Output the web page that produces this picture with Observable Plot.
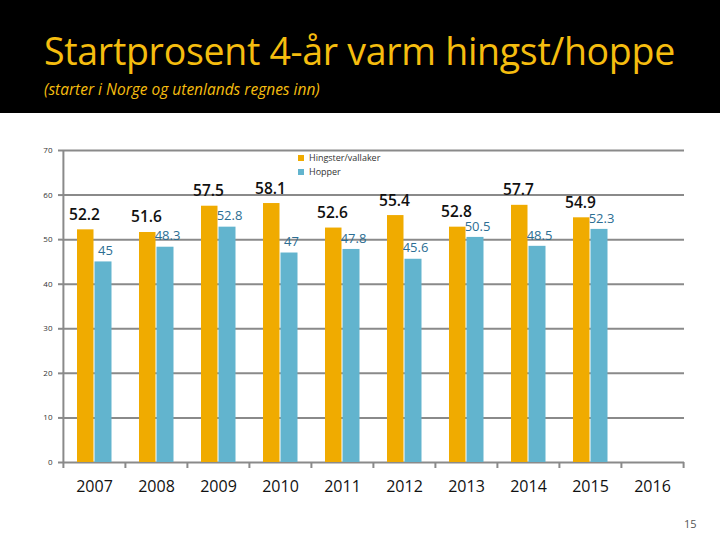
<!DOCTYPE html>
<html>
<head>
<meta charset="utf-8">
<script src="https://cdn.jsdelivr.net/npm/d3@7"></script>
<script src="https://cdn.jsdelivr.net/npm/@observablehq/plot@0.6"></script>
<style>
  html, body { margin: 0; padding: 0; background: #fff; }
  body { width: 720px; height: 540px; position: relative; overflow: hidden; font-family: "Open Sans", sans-serif; }
  #header { background: #000; height: 113px; position: relative; }
  #title { position: absolute; left: 44px; top: 28px; color: #F5BD0F; font-size: 37.5px; line-height: 46px; letter-spacing: -0.3px; white-space: nowrap; }
  #subtitle { position: absolute; left: 44px; top: 78px; color: #F5BD0F; font-size: 15.5px; font-style: italic; white-space: nowrap; }
  #legend { position: absolute; left: 298px; top: 151px; font-size: 9px; color: #333; line-height: 14px; }
  #legend span.sw { display: inline-block; width: 6px; height: 6px; margin-right: 5px; vertical-align: 0px; }
  #page { position: absolute; left: 684px; top: 516px; font-size: 11px; color: #555; }
  #chart { position: absolute; left: 0; top: 113px; }
</style>
</head>
<body>
<div id="header">
  <div id="title">Startprosent 4-år varm hingst/hoppe</div>
  <div id="subtitle">(starter i Norge og utenlands regnes inn)</div>
</div>
<div id="chart"></div>
<div id="legend"></div>
<div id="page">15</div>
<script>
const years = ["2007","2008","2009","2010","2011","2012","2013","2014","2015","2016"];
const seriesNames = ["Hingster/vallaker", "Hopper"];
const hingster = [52.2, 51.6, 57.5, 58.1, 52.6, 55.4, 52.8, 57.7, 54.9];
const hopper = [45, 48.3, 52.8, 47, 47.8, 45.6, 50.5, 48.5, 52.3];
const yTicks = [0, 10, 20, 30, 40, 50, 60, 70];

const colors = ["#F0AB00", "#62B4CE"];
const gray = "#8a8a8a";

const dataH = hingster.map((v, i) => ({year: years[i], value: v}));
const dataM = hopper.map((v, i) => ({year: years[i], value: v}));

const W = 720, H = 427, mL = 62, mR = 36;
const bw = (W - mL - mR) / years.length;

const chart = Plot.plot({
  width: W,
  height: H,
  marginLeft: mL,
  marginRight: mR,
  marginTop: 37,
  marginBottom: 78,
  style: {fontFamily: "Open Sans, sans-serif", background: "transparent"},
  x: {domain: years, padding: 0, axis: null},
  y: {domain: [0, 70], axis: null},
  marks: [
    Plot.ruleY(yTicks, {stroke: gray, strokeWidth: 2}),
    Plot.ruleX([years[0]], {y1: 0, y2: 70, dx: -bw / 2, stroke: gray, strokeWidth: 2}),
    Plot.axisY({ticks: yTicks, tickSize: 4, tickPadding: 6, stroke: gray, strokeWidth: 2, fontSize: 8, color: "#333", label: null}),
    Plot.barY(dataH, {x: "year", y: "value", fill: colors[0], insetLeft: 14, insetRight: 31.5}),
    Plot.barY(dataM, {x: "year", y: "value", fill: colors[1], insetLeft: 31.5, insetRight: 13.5}),
    Plot.text(dataH, {x: "year", y: "value", text: d => String(d.value), dx: -10, dy: -15, fontSize: 15.5, fontWeight: 600, fill: "#111"}),
    Plot.text(dataM, {x: "year", y: "value", text: d => String(d.value), dx: 11, dy: -11, fontSize: 13, fill: "#2C6E93"}),
    Plot.axisX({ticks: years, tickSize: 6, dx: -bw / 2, tickFormat: () => "", stroke: gray, strokeWidth: 2, label: null}),
    Plot.axisX({ticks: [years[years.length - 1]], tickSize: 6, dx: bw / 2, tickFormat: () => "", stroke: gray, strokeWidth: 2, label: null}),
    Plot.axisX({ticks: years, tickSize: 0, tickPadding: 18, fontSize: 16, color: "#111", label: null})
  ]
});
document.getElementById("chart").appendChild(chart);

const legend = document.getElementById("legend");
seriesNames.forEach((name, i) => {
  const row = document.createElement("div");
  const sw = document.createElement("span");
  sw.className = "sw";
  sw.style.background = colors[i];
  row.appendChild(sw);
  row.appendChild(document.createTextNode(name));
  legend.appendChild(row);
});
</script>
</body>
</html>
